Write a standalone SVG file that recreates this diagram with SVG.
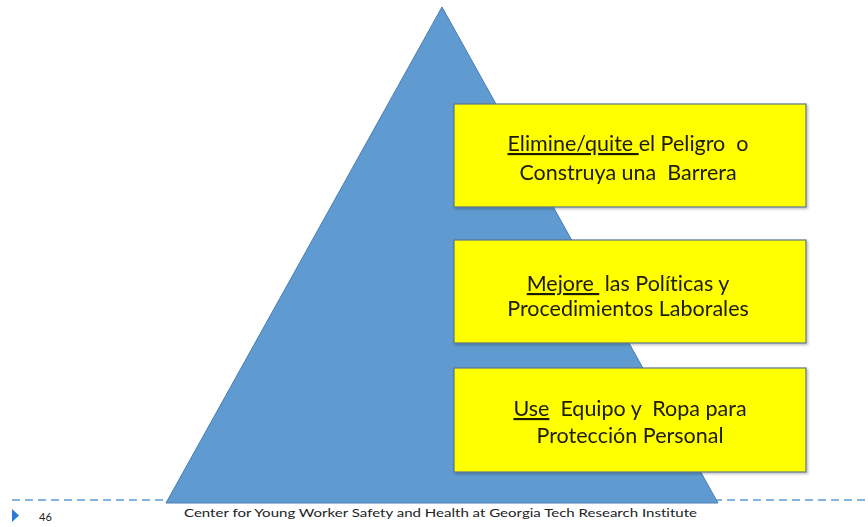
<svg xmlns="http://www.w3.org/2000/svg" width="868" height="527" viewBox="0 0 868 527">
<defs>
<style>
.box{fill:#ffff00;stroke:#5a7390;stroke-width:1.2}
.lbl{font-family:Lato,"Open Sans","DejaVu Sans",sans-serif;font-size:21.5px;fill:#1a1a00;text-anchor:middle;white-space:pre;font-variant-ligatures:none}
.u{text-decoration:underline}
.foot{font-family:Lato,"Open Sans",sans-serif;font-size:11px;fill:#222;font-variant-ligatures:none}
</style>
<filter id="sh" x="-5%" y="-5%" width="110%" height="115%">
<feDropShadow dx="1.5" dy="1.5" stdDeviation="1" flood-color="#000" flood-opacity="0.25"/>
</filter>
</defs>
<rect width="868" height="527" fill="#ffffff"/>
<g id="connectors">
<line x1="12" y1="500" x2="868" y2="500" stroke="#5b9bd5" stroke-width="1.6" stroke-dasharray="8,5"/>
</g>
<g id="pyramid">
<polygon points="442,7 718,503 166,503" fill="#5f9bd0" stroke="#4a7db3" stroke-width="1"/>
</g>
<g id="box1" filter="url(#sh)">
<rect class="box" x="454" y="104" width="352" height="103"/>
<text class="lbl" x="628" y="151" xml:space="preserve"><tspan class="u">Elimine/quite </tspan>el Peligro  o</text>
<text class="lbl" x="628" y="180" xml:space="preserve">Construya una  Barrera</text>
</g>
<g id="box2" filter="url(#sh)">
<rect class="box" x="454" y="240" width="352" height="103"/>
<text class="lbl" x="628" y="291" xml:space="preserve"><tspan class="u">Mejore </tspan> las Políticas y</text>
<text class="lbl" x="628" y="316">Procedimientos Laborales</text>
</g>
<g id="box3" filter="url(#sh)">
<rect class="box" x="454" y="368" width="352" height="104"/>
<text class="lbl" x="630" y="416" xml:space="preserve"><tspan class="u">Use</tspan>  Equipo y  Ropa para</text>
<text class="lbl" x="630" y="443">Protección Personal</text>
</g>
<g id="footer">
<polygon points="12,509 19,515.5 12,522" fill="#2e7bd4"/>
<text class="foot" x="39" y="521" font-size="12" fill="#333">46</text>
<text class="foot" x="184" y="517" textLength="513" lengthAdjust="spacingAndGlyphs">Center for Young Worker Safety and Health at Georgia Tech Research Institute</text>
</g>
</svg>
